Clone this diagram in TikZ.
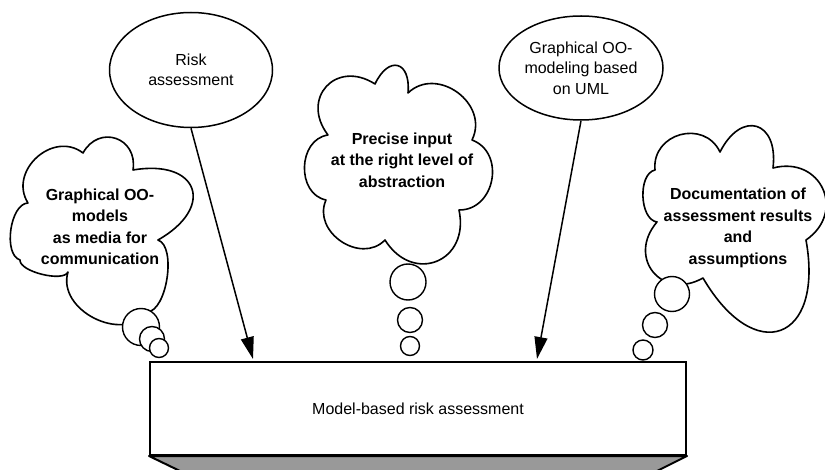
\documentclass[tikz,border=0pt]{standalone}
\usepackage{fontspec}
\setmainfont{Liberation Sans}
\usetikzlibrary{shapes.geometric,arrows.meta}
\definecolor{baseshade}{HTML}{999999}
\begin{document}
\begin{tikzpicture}[x=1pt,y=-1pt,
  cloudline/.style={draw=black, fill=white, line width=1.6pt, line join=round},
  puff/.style={bend left=80, looseness=#1},
  bubble/.style={circle, draw=black, fill=white, line width=1.4pt, inner sep=0pt},
  thought/.style={font=\bfseries\fontsize{16}{21.5}\selectfont, align=center, inner sep=0pt},
  idea/.style={ellipse, draw=black, fill=white, line width=1.5pt, align=center,
    font=\fontsize{16}{20.5}\selectfont, inner sep=0pt},
  feed/.style={line width=1.5pt, -{Triangle[length=22pt,width=13pt]}},
  base/.style={draw=black, fill=white, line width=2pt, minimum width=536pt,
    minimum height=93pt, inner sep=0pt, font=\fontsize{16}{20}\selectfont}
]
\useasboundingbox (0,0) rectangle (825,470);

% left thought cloud
\draw[cloudline] (28,203) to[puff=1.3] (83,153) to[puff=1.6] (133,170)
  to[puff=2.3] (158,240) to[puff=0.7] (147,312) to[puff=1.15] (68,272)
  to[puff=0.6] (20,260) to[puff=0.8] (28,203) -- cycle;
\node[thought] (tl) at (100,227) {Graphical OO-\\models\\as media for\\communication};
\node[bubble, minimum size=37pt] (lb1) at (141,327) {};
\node[bubble, minimum size=25pt] (lb2) at (152,339) {};
\node[bubble, minimum size=19pt] (lb3) at (159,348) {};

% centre thought cloud
\draw[cloudline] (375,84) to[puff=2.4] (408,93) to[puff=1.3] (472,140)
  to[puff=1.3] (459,210) to[puff=1.7] (385,240) to[puff=1.25] (326,200)
  to[puff=1.2] (328,135) to[puff=1.7] (375,84) -- cycle;
\node[thought] (tc) at (402,160) {Precise input\\at the right level of\\abstraction};
\node[bubble, minimum size=36pt] (cb1) at (408,282) {};
\node[bubble, minimum size=25pt] (cb2) at (410,320) {};
\node[bubble, minimum size=19pt] (cb3) at (410,346) {};

% right thought cloud
\draw[cloudline] (655,170) to[puff=1.4] (720,152) to[puff=2.2] (773,168)
  to[puff=1.6] (806,240) to[puff=2.4] (703,278) to[puff=1.66] (657,222)
  to[puff=0.87] (655,170) -- cycle;
\node[thought] (tr) at (738,228) {Documentation of\\assessment results\\and\\assumptions};
\node[bubble, minimum size=35pt] (rb1) at (672,294) {};
\node[bubble, minimum size=25pt] (rb2) at (655,325) {};
\node[bubble, minimum size=20pt] (rb3) at (643,350) {};

% input ellipses
\node[idea, minimum width=163pt, minimum height=115pt] (risk) at (191,70) {Risk\\assessment};
\node[idea, minimum width=164pt, minimum height=104pt] (uml) at (581,68) {Graphical OO-\\modeling based\\on UML};

% central box with shaded lower face
\node[base] (box) at (418,408.5) {Model-based risk assessment};
\draw[line width=2pt, line join=round, fill=baseshade]
  (box.south west) -- (box.south east) -- (657,471) -- (180,471) -- cycle;

% arrows into the box
\coordinate (tipA) at (253,359);
\coordinate (tipB) at (537,359);
\draw[feed] (risk.south) -- (tipA);
\draw[feed] (uml.south) -- (tipB);
\end{tikzpicture}
\end{document}
